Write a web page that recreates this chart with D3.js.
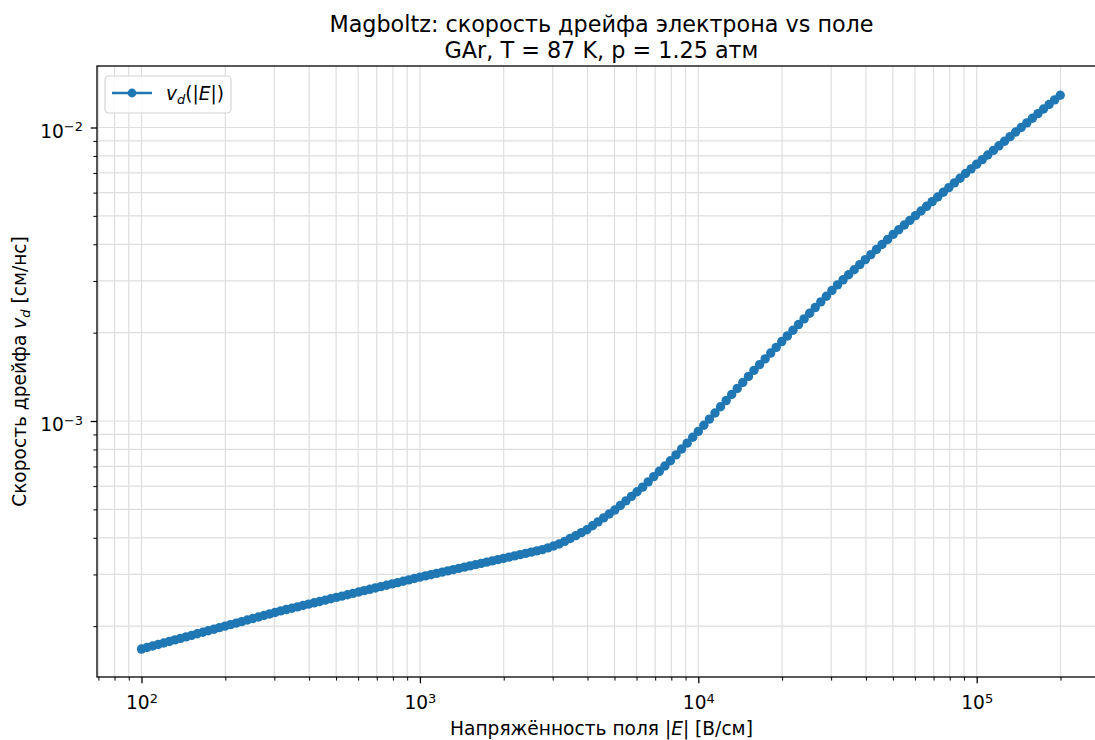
<!DOCTYPE html>
<html>
<head>
<meta charset="utf-8">
<script src="https://cdn.jsdelivr.net/npm/d3@7"></script>
<style>
body { margin: 0; background: #fff; }
svg text { font-family: "DejaVu Sans", sans-serif; fill: #000; }
</style>
</head>
<body>
<div class="chart"></div>
<script>
// field strength |E|, V/cm
const fieldE = [
  100, 104.7, 109.6, 114.8, 120.2, 125.9, 131.8, 138.0, 144.5, 151.4, 158.5, 166.0, 173.8, 182.0, 190.5,
  199.5, 208.9, 218.8, 229.1, 239.9, 251.2, 263.0, 275.4, 288.4, 302.0, 316.2, 331.1, 346.7, 363.1, 380.2,
  398.1, 416.9, 436.5, 457.1, 478.6, 501.2, 524.8, 549.5, 575.4, 602.6, 631.0, 660.7, 691.8, 724.4, 758.6,
  794.3, 831.8, 871.0, 912.0, 955.0,
  1000, 1047, 1096, 1148, 1202, 1259, 1318, 1380, 1445, 1514, 1585, 1660, 1738, 1820, 1905,
  1995, 2089, 2188, 2291, 2399, 2512, 2630, 2754, 2884, 3020, 3162, 3311, 3467, 3631, 3802,
  3981, 4169, 4365, 4571, 4786, 5012, 5248, 5495, 5754, 6026, 6310, 6607, 6918, 7244, 7586,
  7943, 8318, 8710, 9120, 9550,
  10000, 10470, 10960, 11480, 12020, 12590, 13180, 13800, 14450, 15140, 15850, 16600, 17380, 18200, 19050,
  19950, 20890, 21880, 22910, 23990, 25120, 26300, 27540, 28840, 30200, 31620, 33110, 34670, 36310, 38020,
  39810, 41690, 43650, 45710, 47860, 50120, 52480, 54950, 57540, 60260, 63100, 66070, 69180, 72440, 75860,
  79430, 83180, 87100, 91200, 95500,
  100000, 104700, 109600, 114800, 120200, 125900, 131800, 138000, 144500, 151400, 158500, 166000, 173800,
  182000, 190500, 199500
];

// drift velocity v_d, cm/ns
const driftV = [
  1.671e-4, 1.691e-4, 1.711e-4, 1.732e-4, 1.753e-4, 1.774e-4, 1.796e-4, 1.817e-4, 1.839e-4, 1.861e-4,
  1.884e-4, 1.907e-4, 1.930e-4, 1.953e-4, 1.977e-4, 2.000e-4, 2.024e-4, 2.048e-4, 2.073e-4, 2.098e-4,
  2.123e-4, 2.149e-4, 2.175e-4, 2.201e-4, 2.227e-4, 2.254e-4, 2.278e-4, 2.302e-4, 2.327e-4, 2.352e-4,
  2.377e-4, 2.402e-4, 2.427e-4, 2.453e-4, 2.479e-4, 2.506e-4, 2.532e-4, 2.559e-4, 2.587e-4, 2.614e-4,
  2.642e-4, 2.670e-4, 2.699e-4, 2.727e-4, 2.756e-4, 2.786e-4, 2.815e-4, 2.845e-4, 2.875e-4, 2.906e-4,
  2.937e-4, 2.966e-4, 2.995e-4, 3.025e-4, 3.055e-4, 3.085e-4, 3.115e-4, 3.146e-4, 3.177e-4, 3.208e-4,
  3.240e-4, 3.272e-4, 3.304e-4, 3.337e-4, 3.370e-4, 3.403e-4, 3.436e-4, 3.470e-4, 3.504e-4, 3.539e-4,
  3.574e-4, 3.609e-4, 3.645e-4, 3.695e-4, 3.750e-4, 3.810e-4, 3.890e-4, 3.980e-4, 4.070e-4, 4.165e-4,
  4.262e-4, 4.395e-4, 4.533e-4, 4.675e-4, 4.821e-4, 4.972e-4, 5.154e-4, 5.343e-4, 5.538e-4, 5.741e-4,
  5.951e-4, 6.203e-4, 6.465e-4, 6.739e-4, 7.024e-4, 7.321e-4, 7.666e-4, 8.027e-4, 8.405e-4, 8.801e-4,
  9.216e-4, 9.672e-4, 1.015e-3, 1.065e-3, 1.118e-3, 1.174e-3, 1.231e-3, 1.290e-3, 1.353e-3, 1.419e-3,
  1.488e-3, 1.556e-3, 1.628e-3, 1.704e-3, 1.782e-3, 1.865e-3, 1.949e-3, 2.038e-3, 2.131e-3, 2.228e-3,
  2.329e-3, 2.435e-3, 2.546e-3, 2.662e-3, 2.783e-3, 2.909e-3, 3.027e-3, 3.149e-3, 3.276e-3, 3.409e-3,
  3.547e-3, 3.690e-3, 3.839e-3, 3.994e-3, 4.155e-3, 4.323e-3, 4.485e-3, 4.653e-3, 4.827e-3, 5.007e-3,
  5.194e-3, 5.389e-3, 5.590e-3, 5.799e-3, 6.016e-3, 6.241e-3, 6.475e-3, 6.717e-3, 6.968e-3, 7.229e-3,
  7.499e-3, 7.774e-3, 8.059e-3, 8.355e-3, 8.662e-3, 8.980e-3, 9.309e-3, 9.651e-3, 1.000e-2, 1.037e-2,
  1.075e-2, 1.115e-2, 1.156e-2, 1.198e-2, 1.242e-2, 1.288e-2
];

const xMajor = [1e2, 1e3, 1e4, 1e5];
const xMajorExp = ["2", "3", "4", "5"];
const yMajor = [1e-3, 1e-2];
const yMajorExp = ["\u22123", "\u22122"];

const titleLines = ["Magboltz: скорость дрейфа электрона vs поле", "GAr, T = 87 K, p = 1.25 атм"];

const W = 1095, H = 740;
const frame = { left: 97, top: 66, bottom: 677, right: 1106 };
const blue = "#1f77b4";
const gridColor = "#dedede";
const fs = 18.6;

const points = fieldE.map((e, i) => ({ e: e, v: driftV[i] }));

const x = d3.scaleLog().domain([1e2, 1e5]).range([141.5, 976.7]);
const y = d3.scaleLog().domain([1e-3, 1e-2]).range([421, 127.5]);

// same mapping, stretched to the whole frame (for minor ticks / grid)
const xView = x.copy().domain([x.invert(frame.left), x.invert(frame.right)]).range([frame.left, frame.right]);
const yView = y.copy().domain([y.invert(frame.bottom), y.invert(frame.top)]).range([frame.bottom, frame.top]);

const isPow10 = v => Math.abs(Math.log10(v) - Math.round(Math.log10(v))) < 1e-6;
const xMinor = xView.ticks().filter(v => !isPow10(v) && xView(v) < W);
const yMinor = yView.ticks().filter(v => !isPow10(v));

const svg = d3.select(".chart")
  .append("svg")
  .attr("width", W)
  .attr("height", H);

// grid (major + minor)
const grid = svg.append("g").attr("class", "grid")
  .attr("stroke", gridColor)
  .attr("stroke-width", 1.2);

grid.selectAll(".gx")
  .data(xMinor.concat(xMajor))
  .enter().append("line")
  .attr("x1", d => x(d)).attr("x2", d => x(d))
  .attr("y1", frame.top).attr("y2", frame.bottom);

grid.selectAll(".gy")
  .data(yMinor.concat(yMajor))
  .enter().append("line")
  .attr("x1", frame.left).attr("x2", frame.right)
  .attr("y1", d => y(d)).attr("y2", d => y(d));

// data
const line = d3.line()
  .x(d => x(d.e))
  .y(d => y(d.v));

svg.append("path")
  .datum(points)
  .attr("fill", "none")
  .attr("stroke", blue)
  .attr("stroke-width", 3)
  .attr("d", line);

svg.append("g")
  .selectAll("circle")
  .data(points)
  .enter().append("circle")
  .attr("cx", d => x(d.e))
  .attr("cy", d => y(d.v))
  .attr("r", 4.7)
  .attr("fill", blue);

// axes
function styleAxis(g) {
  g.select(".domain").remove();
  g.attr("font-family", "DejaVu Sans").attr("font-size", fs);
  g.selectAll(".tick line").attr("stroke", "#000");
}

const gxMinor = svg.append("g")
  .attr("transform", "translate(0," + frame.bottom + ")")
  .call(d3.axisBottom(x).tickValues(xMinor).tickSize(3.6).tickFormat(""));
styleAxis(gxMinor);
gxMinor.selectAll(".tick line").attr("stroke-width", 1);

const gxMajor = svg.append("g")
  .attr("transform", "translate(0," + frame.bottom + ")")
  .call(d3.axisBottom(x).tickValues(xMajor).tickSize(6.3).tickFormat(""));
styleAxis(gxMajor);
gxMajor.selectAll(".tick line").attr("stroke-width", 1.3);
gxMajor.selectAll(".tick text").each(function (d, i) {
  const t = d3.select(this).attr("y", 32.3).attr("dy", null);
  t.append("tspan").text("10");
  t.append("tspan").attr("dy", -6.8).attr("font-size", 13).text(xMajorExp[i]);
});

const gyMinor = svg.append("g")
  .attr("transform", "translate(" + frame.left + ",0)")
  .call(d3.axisLeft(y).tickValues(yMinor).tickSize(3.6).tickFormat(""));
styleAxis(gyMinor);
gyMinor.selectAll(".tick line").attr("stroke-width", 1);

const gyMajor = svg.append("g")
  .attr("transform", "translate(" + frame.left + ",0)")
  .call(d3.axisLeft(y).tickValues(yMajor).tickSize(6.3).tickFormat(""));
styleAxis(gyMajor);
gyMajor.selectAll(".tick line").attr("stroke-width", 1.3);
gyMajor.selectAll(".tick text").each(function (d, i) {
  const t = d3.select(this).attr("x", -14).attr("y", 9.8).attr("dy", null);
  t.append("tspan").text("10");
  t.append("tspan").attr("dy", -6.8).attr("font-size", 13).text(yMajorExp[i]);
});

// spines (right one falls outside the picture)
svg.append("rect")
  .attr("x", frame.left)
  .attr("y", frame.top)
  .attr("width", frame.right - frame.left)
  .attr("height", frame.bottom - frame.top)
  .attr("fill", "none")
  .attr("stroke", "#000")
  .attr("stroke-width", 1.3);

// legend
const legend = svg.append("g").attr("transform", "translate(105,76)");
legend.append("rect")
  .attr("width", 126).attr("height", 37).attr("rx", 4)
  .attr("fill", "#fff").attr("fill-opacity", 0.8)
  .attr("stroke", "#d4d4d4").attr("stroke-width", 1.2);
legend.append("line")
  .attr("x1", 7).attr("x2", 47).attr("y1", 17).attr("y2", 17)
  .attr("stroke", blue).attr("stroke-width", 2.7);
legend.append("circle")
  .attr("cx", 27).attr("cy", 17).attr("r", 4.4).attr("fill", blue);
const lt = legend.append("text").attr("x", 61).attr("y", 24).attr("font-size", fs);
lt.append("tspan").attr("font-style", "italic").text("v");
lt.append("tspan").attr("font-style", "italic").attr("font-size", 13).attr("dy", 3.5).text("d");
lt.append("tspan").attr("dy", -3.5).text("(|");
lt.append("tspan").attr("font-style", "italic").text("E");
lt.append("tspan").text("|)");

// title
svg.selectAll(".title")
  .data(titleLines)
  .enter().append("text")
  .attr("class", "title")
  .attr("x", 601.5)
  .attr("y", (d, i) => 32.3 + i * 26)
  .attr("text-anchor", "middle")
  .attr("font-size", 22.3)
  .text(d => d);

// axis labels
const xl = svg.append("text")
  .attr("x", 601.5).attr("y", 735)
  .attr("text-anchor", "middle")
  .attr("font-size", fs);
xl.append("tspan").text("Напряжённость поля |");
xl.append("tspan").attr("font-style", "italic").text("E");
xl.append("tspan").text("| [В/см]");

const yl = svg.append("text")
  .attr("transform", "translate(26," + ((frame.top + frame.bottom) / 2) + ") rotate(-90)")
  .attr("text-anchor", "middle")
  .attr("font-size", fs);
yl.append("tspan").text("Скорость дрейфа ");
yl.append("tspan").attr("font-style", "italic").text("v");
yl.append("tspan").attr("font-style", "italic").attr("font-size", 13).attr("dy", 3.5).text("d");
yl.append("tspan").attr("dy", -3.5).text(" [см/нс]");
</script>
</body>
</html>
